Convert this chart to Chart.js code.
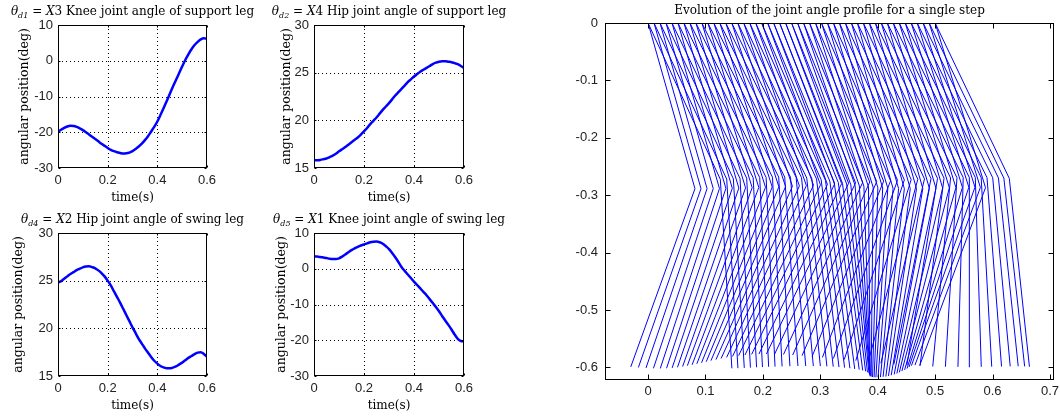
<!DOCTYPE html>
<html>
<head>
<meta charset="utf-8">
<script src="https://cdn.jsdelivr.net/npm/chart.js@4.4.0/dist/chart.umd.min.js"></script>
<style>
  html, body { margin: 0; padding: 0; background: #fff; }
  body { width: 1060px; height: 419px; position: relative; overflow: hidden; }
  canvas { position: absolute; }
</style>
</head>
<body>
<canvas id="c1" width="260" height="205" style="left:0;top:0"></canvas>
<canvas id="c2" width="270" height="205" style="left:260px;top:0"></canvas>
<canvas id="c3" width="260" height="214" style="left:0;top:205px"></canvas>
<canvas id="c4" width="270" height="214" style="left:260px;top:205px"></canvas>
<canvas id="c5" width="520" height="419" style="left:540px;top:0"></canvas>
<script>
// temps (s) - mesmas amostras para os 4 graficos e para o desenho das pernas
const time = [0, 0.0125, 0.025, 0.0375, 0.05, 0.0625, 0.075, 0.0875, 0.1, 0.1125, 0.125, 0.1375, 0.15, 0.1625,
  0.175, 0.1875, 0.2, 0.2125, 0.225, 0.2375, 0.25, 0.2625, 0.275, 0.2875, 0.3, 0.3125, 0.325, 0.3375, 0.35,
  0.3625, 0.375, 0.3875, 0.4, 0.4125, 0.425, 0.4375, 0.45, 0.4625, 0.475, 0.4875, 0.5, 0.5125, 0.525, 0.5375,
  0.55, 0.5625, 0.575, 0.5875, 0.6];

// angulos (graus)
const kneeSupport = [-19.8, -19.3, -18.8, -18.4, -18.2, -18.25, -18.5, -18.9, -19.4, -20.0,
  -20.6, -21.25, -21.9, -22.55, -23.2, -23.8, -24.4, -24.9, -25.3, -25.6,
  -25.8, -25.95, -25.9, -25.7, -25.3, -24.7, -24.0, -23.2, -22.2, -21.1,
  -19.8, -18.5, -17.0, -15.2, -13.3, -11.3, -9.3, -7.3, -5.4, -3.5,
  -1.6, 0.2, 1.8, 3.2, 4.4, 5.3, 6.0, 6.3, 6.1];                       // X3
const hipSupport = [15.8, 15.82, 15.85, 15.92, 16.0, 16.15, 16.3, 16.5, 16.75, 16.97,
  17.2, 17.45, 17.7, 17.95, 18.2, 18.5, 18.85, 19.2, 19.6, 19.95,
  20.3, 20.7, 21.1, 21.45, 21.8, 22.2, 22.6, 22.95, 23.3, 23.65,
  24.0, 24.3, 24.6, 24.85, 25.1, 25.3, 25.5, 25.7, 25.9, 26.05,
  26.15, 26.2, 26.2, 26.15, 26.1, 26.0, 25.9, 25.7, 25.5];               // X4
const hipSwing = [24.8, 24.95, 25.2, 25.45, 25.7, 25.9, 26.1, 26.25, 26.4, 26.48,
  26.5, 26.42, 26.3, 26.08, 25.8, 25.45, 25.0, 24.5, 23.9, 23.3,
  22.7, 22.05, 21.4, 20.75, 20.1, 19.5, 18.9, 18.4, 17.9, 17.45,
  17.0, 16.6, 16.3, 16.05, 15.9, 15.82, 15.8, 15.88, 16.0, 16.2,
  16.4, 16.65, 16.9, 17.1, 17.3, 17.45, 17.5, 17.3, 17.0];               // X2
const kneeSwing = [3.5, 3.4, 3.3, 3.15, 3.0, 2.8, 2.7, 2.7, 2.9, 3.4,
  4.0, 4.6, 5.2, 5.7, 6.1, 6.5, 6.8, 7.1, 7.4, 7.55,
  7.6, 7.4, 7.0, 6.3, 5.5, 4.4, 3.2, 1.9, 0.5, -0.6,
  -1.6, -2.6, -3.6, -4.55, -5.5, -6.45, -7.4, -8.5, -9.6, -10.7,
  -11.9, -13.2, -14.5, -15.7, -17.0, -18.4, -19.6, -20.2, -20.3];       // X1

// ticks
const timeTicks = [0, 0.2, 0.4, 0.6];
const kneeTicks = [-30, -20, -10, 0, 10];
const hipTicks = [15, 20, 25, 30];
const stepXTicks = [0, 0.1, 0.2, 0.3, 0.4, 0.5, 0.6, 0.7];
const stepYTicks = [-0.6, -0.5, -0.4, -0.3, -0.2, -0.1, 0];

// titulos
const panelTitles = [
  { sub: 'd1', name: 'X', num: '3', text: ' Knee joint angle of support leg' },
  { sub: 'd2', name: 'X', num: '4', text: ' Hip joint angle of support leg' },
  { sub: 'd4', name: 'X', num: '2', text: ' Hip joint angle of swing leg' },
  { sub: 'd5', name: 'X', num: '1', text: ' Knee joint angle of swing leg' }
];
const yLabel = 'angular position(deg)';
const xLabel = 'time(s)';
const stepTitle = 'Evolution of the joint angle profile for a single step';

// dimensoes das pernas e avanço da anca no passo (lidos do grafico da direita)
const thighLength = 0.30;
const shankLength = 0.33;
const hipTravel = 0.5;

const serif = '"DejaVu Serif", serif';
const sans = '"Liberation Sans", Arial, sans-serif';

// eixo linear com ticks fixos
function axis(min, max, ticks, size, horizontal, pad) {
  return {
    type: 'linear', min: min, max: max,
    grid: { display: false, drawTicks: false },
    border: { display: false },
    ticks: {
      color: '#222', font: { family: sans, size: 13 }, padding: pad,
      autoSkip: false, maxRotation: 0, callback: v => String(v)
    },
    afterBuildTicks: s => { s.ticks = ticks.map(v => ({ value: v })); },
    afterFit: s => {
      if (horizontal) s.height = size; else s.width = size;
      s.paddingLeft = 0; s.paddingRight = 0; s.paddingTop = 0; s.paddingBottom = 0;
    }
  };
}

// desenha caixa, grelha pontilhada, ticks para dentro, titulo e labels (estilo matlab)
const matlabFrame = {
  id: 'matlabFrame',
  beforeDatasetsDraw(chart, args, opts) {
    if (!opts.grid) return;
    const { ctx, chartArea: a, scales } = chart;
    ctx.save();
    ctx.strokeStyle = '#000';
    ctx.lineWidth = 1;
    ctx.setLineDash([1, 3]);
    ctx.beginPath();
    scales.x.ticks.forEach(t => {
      const px = Math.round(scales.x.getPixelForValue(t.value)) + 0.5;
      if (px > a.left + 2 && px < a.right - 2) { ctx.moveTo(px, a.top); ctx.lineTo(px, a.bottom); }
    });
    scales.y.ticks.forEach(t => {
      const py = Math.round(scales.y.getPixelForValue(t.value)) + 0.5;
      if (py > a.top + 2 && py < a.bottom - 2) { ctx.moveTo(a.left, py); ctx.lineTo(a.right, py); }
    });
    ctx.stroke();
    ctx.restore();
  },
  afterDraw(chart, args, opts) {
    const { ctx, chartArea: a, scales } = chart;
    const L = Math.round(a.left) + 0.5, R = Math.round(a.right) - 0.5;
    const T = Math.round(a.top) + 0.5, B = Math.round(a.bottom) - 0.5;
    ctx.save();
    ctx.strokeStyle = '#000';
    ctx.lineWidth = 1;
    ctx.strokeRect(L, T, R - L, B - T);
    const tl = opts.tickLength || 0;
    if (tl) {
      ctx.beginPath();
      scales.x.ticks.forEach(t => {
        const px = Math.round(scales.x.getPixelForValue(t.value)) + 0.5;
        ctx.moveTo(px, B); ctx.lineTo(px, B - tl);
        ctx.moveTo(px, T); ctx.lineTo(px, T + tl);
      });
      scales.y.ticks.forEach(t => {
        const py = Math.round(scales.y.getPixelForValue(t.value)) + 0.5;
        ctx.moveTo(L, py); ctx.lineTo(L + tl, py);
        ctx.moveTo(R, py); ctx.lineTo(R - tl, py);
      });
      ctx.stroke();
    }
    ctx.fillStyle = '#000';
    const cx = (a.left + a.right) / 2;
    const cy = (a.top + a.bottom) / 2;
    // titulo
    if (opts.title) {
      const pieces = opts.title.sub
        ? [['θ', 'italic 12px ' + serif, 0], [opts.title.sub, 'italic 8px ' + serif, 3],
           [' = ', '12px ' + serif, 0], [opts.title.name, 'italic 12px ' + serif, 0],
           [opts.title.num + opts.title.text, '12px ' + serif, 0]]
        : [[opts.title.text, '12px ' + serif, 0]];
      let w = 0;
      pieces.forEach(p => { ctx.font = p[1]; p.push(ctx.measureText(p[0]).width); w += p[3]; });
      let x = cx - w / 2;
      ctx.textAlign = 'left';
      ctx.textBaseline = 'alphabetic';
      pieces.forEach(p => { ctx.font = p[1]; ctx.fillText(p[0], x, a.top - opts.titleGap + p[2]); x += p[3]; });
    }
    ctx.textAlign = 'center';
    ctx.textBaseline = 'middle';
    ctx.font = '12px ' + serif;
    if (opts.xLabel) ctx.fillText(opts.xLabel, cx, a.bottom + 30);
    if (opts.yLabel) {
      ctx.font = '12.5px ' + serif;
      ctx.translate(opts.yLabelX, cy);
      ctx.rotate(-Math.PI / 2);
      ctx.fillText(opts.yLabel, 0, 0);
    }
    ctx.restore();
  }
};

// graficos pequenos
const panels = [
  { id: 'c1', values: kneeSupport, min: -30, max: 10, ticks: kneeTicks, title: panelTitles[0],
    padding: { left: 0, top: 25, right: 53, bottom: 0 }, yWidth: 58, xHeight: 37, yLabelX: 24.5 },
  { id: 'c2', values: hipSupport, min: 15, max: 30, ticks: hipTicks, title: panelTitles[1],
    padding: { left: 0, top: 25, right: 66, bottom: 0 }, yWidth: 54, xHeight: 37, yLabelX: 27 },
  { id: 'c3', values: hipSwing, min: 15, max: 30, ticks: hipTicks, title: panelTitles[2],
    padding: { left: 0, top: 28, right: 53, bottom: 0 }, yWidth: 58, xHeight: 43, yLabelX: 18.5 },
  { id: 'c4', values: kneeSwing, min: -30, max: 10, ticks: kneeTicks, title: panelTitles[3],
    padding: { left: 0, top: 28, right: 66, bottom: 0 }, yWidth: 54, xHeight: 43, yLabelX: 22 }
];

panels.forEach(p => {
  new Chart(document.getElementById(p.id), {
    type: 'line',
    data: {
      datasets: [{
        data: time.map((t, i) => ({ x: t, y: p.values[i] })),
        borderColor: '#0000ff', borderWidth: 2.5, pointRadius: 0,
        cubicInterpolationMode: 'monotone', fill: false
      }]
    },
    options: {
      responsive: false, animation: false, events: [],
      layout: { padding: p.padding },
      scales: {
        x: axis(0, 0.6, timeTicks, p.xHeight, true, 5),
        y: axis(p.min, p.max, p.ticks, p.yWidth, false, 5)
      },
      plugins: {
        legend: { display: false }, tooltip: { enabled: false },
        matlabFrame: { grid: true, tickLength: 2, title: p.title, titleGap: 10,
          xLabel: xLabel, yLabel: yLabel, yLabelX: p.yLabelX }
      }
    },
    plugins: [matlabFrame]
  });
});

// posicoes das articulacoes em cada instante: pe, joelho, anca, joelho, pe
function stickFrame(i) {
  const rad = Math.PI / 180;
  const hipX = hipTravel * time[i] / time[time.length - 1];
  const kA = { x: hipX + thighLength * Math.sin(hipSupport[i] * rad), y: -thighLength * Math.cos(hipSupport[i] * rad) };
  const fA = { x: kA.x + shankLength * Math.sin(kneeSupport[i] * rad), y: kA.y - shankLength * Math.cos(kneeSupport[i] * rad) };
  const kB = { x: hipX + thighLength * Math.sin(hipSwing[i] * rad), y: -thighLength * Math.cos(hipSwing[i] * rad) };
  const fB = { x: kB.x + shankLength * Math.sin(kneeSwing[i] * rad), y: kB.y - shankLength * Math.cos(kneeSwing[i] * rad) };
  return [fA, kA, { x: hipX, y: 0 }, kB, fB];
}

new Chart(document.getElementById('c5'), {
  type: 'scatter',
  data: {
    datasets: time.map((t, i) => ({
      data: stickFrame(i), showLine: true, borderColor: '#0000ff', borderWidth: 1,
      pointRadius: 0, tension: 0, fill: false
    }))
  },
  options: {
    responsive: false, animation: false, events: [],
    layout: { padding: { left: 0, top: 23, right: 6, bottom: 0 } },
    scales: {
      x: axis(-0.075, 0.707, stepXTicks, 39, true, 4),
      y: axis(-0.622, 0, stepYTicks, 65, false, 7)
    },
    plugins: {
      legend: { display: false }, tooltip: { enabled: false },
      matlabFrame: { grid: false, tickLength: 5, title: { text: stepTitle }, titleGap: 9 }
    }
  },
  plugins: [matlabFrame]
});
</script>
</body>
</html>
